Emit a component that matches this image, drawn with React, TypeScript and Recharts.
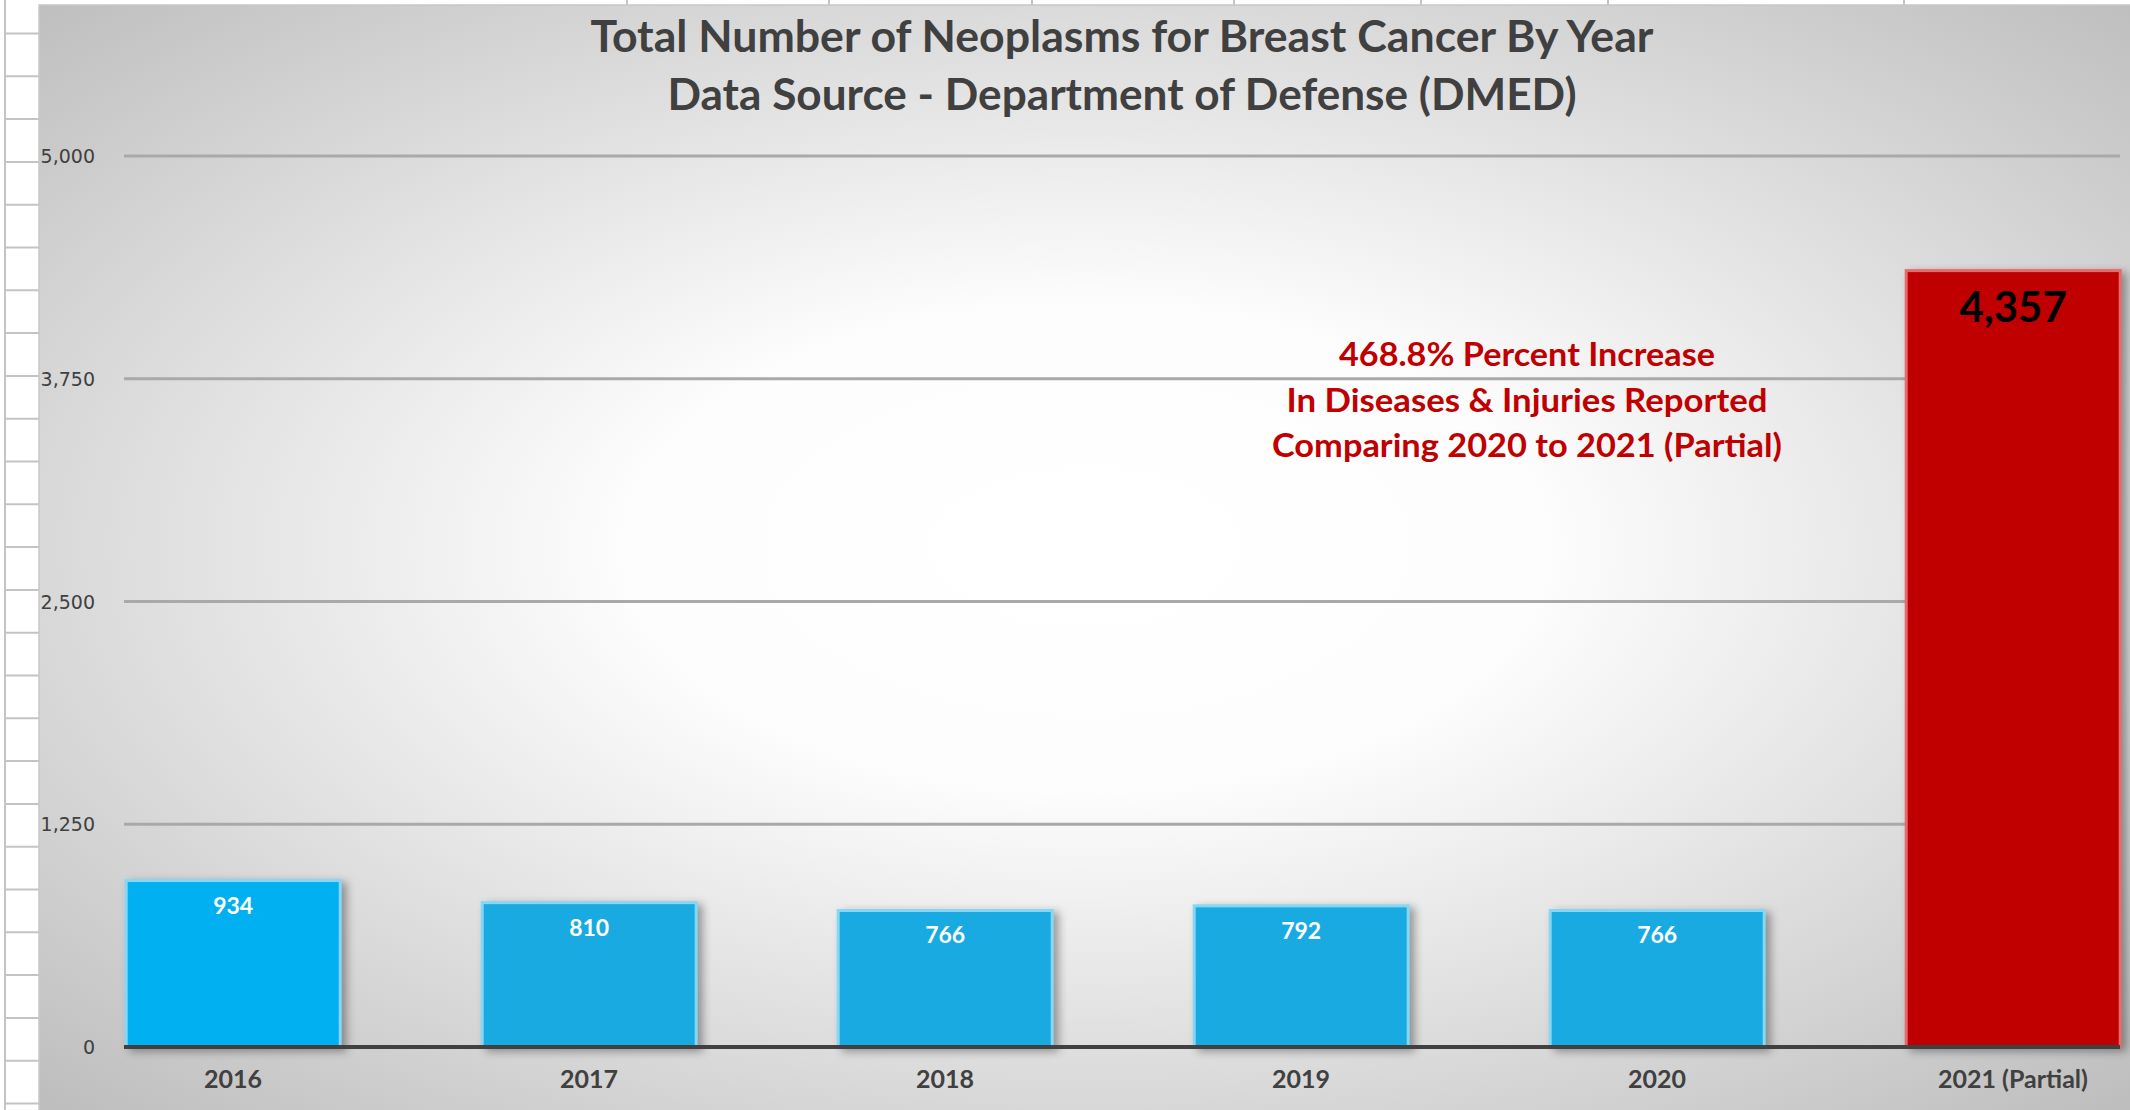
import React from 'react';
import { BarChart, Bar, XAxis, YAxis, CartesianGrid, LabelList } from 'recharts';

// ---- data ----
const years = ['2016', '2017', '2018', '2019', '2020', '2021 (Partial)'];
const counts = [934, 810, 766, 792, 766, 4357];
const barFills = ['#00B0F0', '#19AAE1', '#19AAE1', '#19AAE1', '#19AAE1', '#C00000'];
const barStrokes = ['#86D6F5', '#86D6F5', '#86D6F5', '#86D6F5', '#86D6F5', '#E46C6C'];
const labelColors = ['#FFFFFF', '#FFFFFF', '#FFFFFF', '#FFFFFF', '#FFFFFF', '#000000'];
const yTicks = [0, 1250, 2500, 3750, 5000];
const titleLines = [
  'Total Number of Neoplasms for Breast Cancer By Year',
  'Data Source - Department of Defense (DMED)',
];
const noteLines = [
  '468.8% Percent Increase',
  'In Diseases & Injuries Reported',
  'Comparing 2020 to 2021 (Partial)',
];

const data = years.map((year, i) => ({ year, count: counts[i] }));

// ---- layout / decoration ----
const W = 2130;
const H = 1110;
const cellRowTops = [33.5, 76.3, 119.1, 161.9, 204.7, 247.5, 290.3, 333.1, 375.9, 418.7, 461.5, 504.3, 547.1, 589.9, 632.7, 675.5, 718.3, 761.1, 803.9, 846.7, 889.5, 932.3, 975.1, 1017.9, 1060.7, 1103.5];
const cellCols = [627, 829, 1032, 1234, 1421, 1608, 1904];
const titleWidths = [1063, 909];
const noteWidths = [376, 481, 510];
const noteBaselines = [366, 412, 457];

const fmt = (v: number) => Number(v).toLocaleString('en-US');
const FONT = 'Lato, "Open Sans", sans-serif';

const idxOf = (p: any) => {
  if (typeof p.index === 'number') return p.index;
  const yr = p.payload && p.payload.year;
  const i = years.indexOf(yr);
  return i >= 0 ? i : 0;
};

const BarShape = (p: any) => {
  const i = idxOf(p);
  const { x, y, width, height } = p;
  return (
    <rect
      x={x}
      y={y}
      width={width}
      height={height}
      fill={barFills[i]}
      stroke={barStrokes[i]}
      strokeWidth={3}
      style={{ filter: 'drop-shadow(5px 3px 4px rgba(0,0,0,0.35))' }}
    />
  );
};

const renderLabel = (p: any) => {
  const { x, y, width, value } = p;
  let i = typeof p.index === 'number' ? p.index : counts.indexOf(Number(value));
  if (i < 0) i = 0;
  const big = i === years.length - 1;
  return (
    <text
      x={Number(x) + Number(width) / 2}
      y={Number(y) + (big ? 51 : 33)}
      textAnchor="middle"
      fontFamily={FONT}
      fontWeight={700}
      fontSize={big ? 42 : 23}
      fill={labelColors[i]}
    >
      {fmt(value)}
    </text>
  );
};

const XTick = (p: any) => (
  <text
    x={p.x}
    y={p.y + 41}
    textAnchor="middle"
    fontFamily={FONT}
    fontWeight={700}
    fontSize={25}
    fill="#404040"
  >
    {p.payload.value}
  </text>
);

const YTick = (p: any) => (
  <text
    x={p.x}
    y={p.y + 7}
    textAnchor="end"
    fontFamily='"DejaVu Sans", sans-serif'
    fontSize={19}
    fill="#404040"
  >
    {fmt(p.payload.value)}
  </text>
);

export default function App() {
  return (
    <div style={{ position: 'fixed', left: 0, top: 0, width: W, height: H, overflow: 'hidden', background: '#ffffff' }}>
      <svg width={W} height={H} style={{ position: 'absolute', left: 0, top: 0 }}>
        <defs>
          <radialGradient id="panelBg" cx="0.5" cy="0.49" r="0.72">
            <stop offset="0" stopColor="#ffffff" />
            <stop offset="0.3" stopColor="#fdfdfd" />
            <stop offset="1" stopColor="#bcbcbc" />
          </radialGradient>
        </defs>
        <line x1={5} y1={0} x2={5} y2={H} stroke="#c4c4c4" strokeWidth={2} />
        {cellRowTops.map((y, k) => (
          <line key={'r' + k} x1={5} y1={y} x2={39} y2={y} stroke="#c4c4c4" strokeWidth={2} />
        ))}
        {cellCols.map((x, k) => (
          <line key={'c' + k} x1={x} y1={0} x2={x} y2={6} stroke="#c4c4c4" strokeWidth={2} />
        ))}
        <rect x={39} y={5} width={W - 39 + 2} height={H - 5 + 2} fill="url(#panelBg)" stroke="#c8c8c8" strokeWidth={1.5} />
      </svg>
      <div style={{ position: 'absolute', left: 0, top: 0 }}>
        <BarChart
          width={W}
          height={H}
          data={data}
          margin={{ top: 156, right: 10, bottom: 0, left: 0 }}
          barCategoryGap="20%"
        >
          <CartesianGrid vertical={false} stroke="#a9a9a9" strokeWidth={3} />
          <XAxis
            dataKey="year"
            type="category"
            interval={0}
            height={63}
            tickSize={0}
            tickMargin={0}
            tickLine={false}
            axisLine={{ stroke: '#404040', strokeWidth: 4 }}
            padding={{ left: -69, right: -71 }}
            tick={<XTick />}
          />
          <YAxis
            domain={[0, 5000]}
            ticks={yTicks}
            width={124}
            tickSize={0}
            tickMargin={29}
            tickLine={false}
            axisLine={false}
            interval={0}
            tick={<YTick />}
          />
          <Bar dataKey="count" isAnimationActive={false} shape={<BarShape />}>
            <LabelList dataKey="count" content={renderLabel} />
          </Bar>
        </BarChart>
      </div>
      <svg width={W} height={H} style={{ position: 'absolute', left: 0, top: 0, pointerEvents: 'none' }}>
        {titleLines.map((t, k) => (
          <text
            key={'t' + k}
            x={1122}
            y={k === 0 ? 52 : 110}
            textAnchor="middle"
            fontFamily={FONT}
            fontWeight={700}
            fontSize={44}
            fill="#404040"
            textLength={titleWidths[k]}
            lengthAdjust="spacingAndGlyphs"
          >
            {t}
          </text>
        ))}
        {noteLines.map((t, k) => (
          <text
            key={'n' + k}
            x={1527}
            y={noteBaselines[k]}
            textAnchor="middle"
            fontFamily={FONT}
            fontWeight={700}
            fontSize={33}
            fill="#C00000"
            textLength={noteWidths[k]}
            lengthAdjust="spacingAndGlyphs"
          >
            {t}
          </text>
        ))}
      </svg>
    </div>
  );
}
